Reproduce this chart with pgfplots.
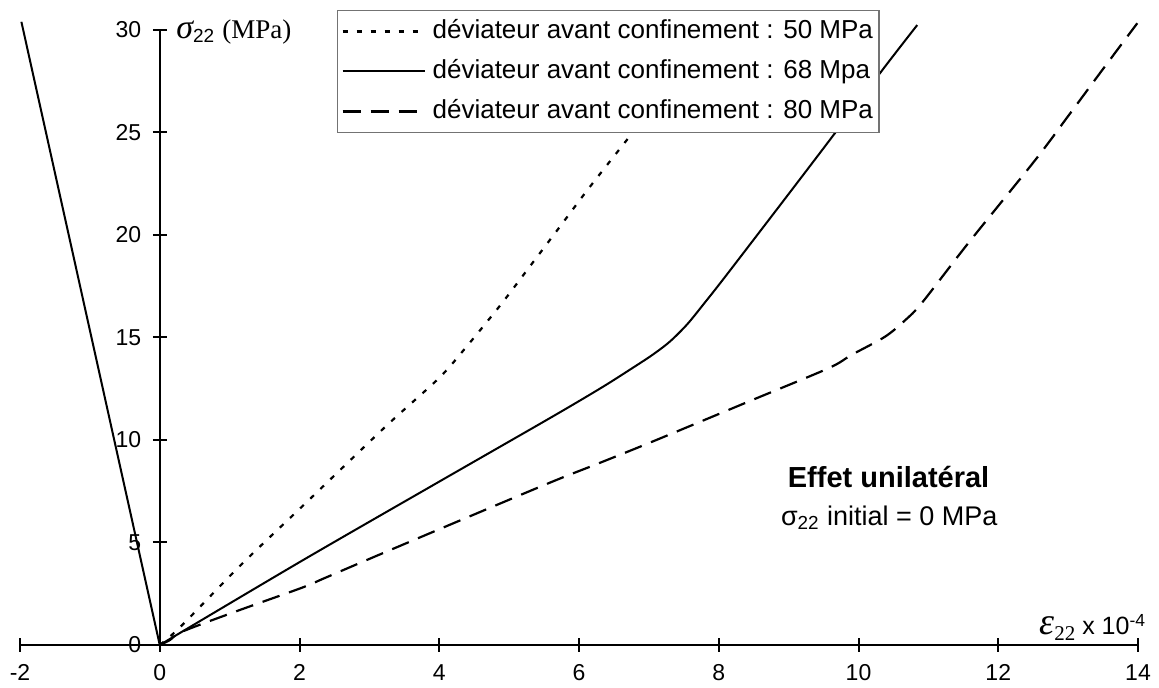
\documentclass[border=0pt]{standalone}
\usepackage{fontspec}
\setmainfont{Liberation Sans}
\newfontfamily\seriffont{Liberation Serif}
\usepackage{pgfplots}
\pgfplotsset{compat=1.18}
\begin{document}
\begin{tikzpicture}
\useasboundingbox (-10pt,-21.5pt) rectangle (569.5pt,322.5pt);
\begin{axis}[
  at={(0pt,0pt)}, anchor=south west,
  scale only axis, width=559pt, height=307.5pt,
  xmin=-2, xmax=14, ymin=0, ymax=30,
  axis lines=middle,
  axis line style={-, line width=1pt},
  xtick={-2,0,...,14}, ytick={0,5,...,30},
  tick align=center, major tick length=7pt,
  tick style={line width=1pt, black},
  hide obscured x ticks=false, hide obscured y ticks=false,
  /pgf/number format/assume math mode=true,
  tick label style={font=\fontsize{11.5}{13}\selectfont},
  xticklabel style={yshift=-2.6pt},
  yticklabel style={xshift=-2.3pt},
  clip=false,
  every axis x label/.style={at={(axis description cs:0.9114,0.0163)}, anchor=base west, inner sep=0pt},
  every axis y label/.style={at={(axis description cs:0.1395,0.9854)}, anchor=base west, inner sep=0pt},
  xlabel={{\seriffont\itshape\fontsize{19}{19}\selectfont ε}{\seriffont\fontsize{10.5}{10}\selectfont\raisebox{-3pt}{22}}\fontsize{12.5}{14}\selectfont{} x 10\textsuperscript{-4}},
  ylabel={{\seriffont\itshape\fontsize{17}{17}\selectfont σ}\raisebox{-2pt}{\fontsize{9.5}{10}\selectfont 22}\hspace{4pt}{\seriffont\fontsize{13.5}{15}\selectfont (MPa)}},
  legend style={at={(axis description cs:0.2833,1.0325)}, anchor=north west,
    draw=black!55, line width=0.7pt, fill=white,
    font=\fontsize{13}{15}\selectfont,
    inner xsep=2pt, inner ysep=2.9pt, row sep=5pt,
    nodes={inner sep=1pt, text height=10pt, text depth=3pt},
    /tikz/every odd column/.append style={column sep=2.5pt}},
  legend cell align=left,
  legend image code/.code={\draw[#1] (0pt,0pt) -- (41pt,0pt);},
]
\addplot[black, line width=1.1pt, dash pattern=on 2.5pt off 4.5pt, smooth, tension=0.5] coordinates {
(0,0) (0.3,0.9) (1.16,3.9) (2.06,6.83) (3.23,10.65) (3.99,13.0) (4.37,14.47) (4.88,16.6)
(5.26,18.3) (5.71,20.33) (6.14,22.28) (6.76,24.96) (7.3,27.3) (7.9,30.0)};
\addlegendentry{déviateur avant confinement : 50 MPa}
\addplot[black, line width=1pt, solid, smooth, tension=0.5] coordinates {
(0,0) (2.03,4.1) (4,7.97) (5.62,11.14) (6.33,12.57) (6.76,13.5) (7.05,14.15) (7.3,14.8)
(7.55,15.65) (7.8,16.7) (8.1,18.0) (9.0,22.0) (9.67,25.0) (10.36,28.13) (10.84,30.24)};
\addlegendentry{déviateur avant confinement : 68 Mpa}
\addplot[black, line width=1.1pt, dash pattern=on 9pt off 5pt, smooth, tension=0.5] coordinates {
(0,0) (0.15,0.25) (0.32,0.65) (1.1,1.65) (2.04,2.8) (2.35,3.25) (3.0,4.2) (4.37,6.18)
(5.62,7.97) (6.28,8.86) (7.05,9.92) (8.48,11.95) (9.57,13.5) (9.9,14.15) (10.38,15.04)
(10.67,15.85) (10.91,16.7) (11.57,19.6) (12.53,23.66) (13.0,25.8) (13.5,28.1) (13.99,30.33)};
\addlegendentry{déviateur avant confinement : 80 MPa}
\addplot[black, line width=1pt, solid, forget plot] coordinates {(0,0) (-1.98,30.4)};
\node[anchor=base, font=\bfseries\fontsize{14.5}{17}\selectfont] at (axis cs:10.43,7.66) {Effet unilatéral};
\node[anchor=base, font=\fontsize{13.5}{16}\selectfont] at (axis cs:10.44,5.85) {σ\textsubscript{22} initial = 0 MPa};
\end{axis}
\end{tikzpicture}
\end{document}
